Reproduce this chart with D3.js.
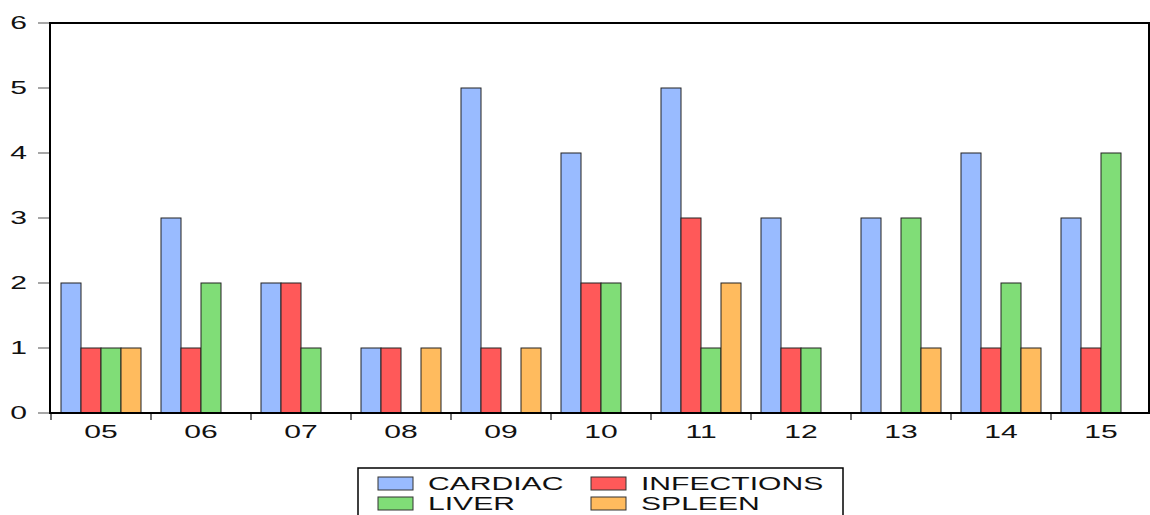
<!DOCTYPE html>
<html>
<head>
<meta charset="utf-8">
<script src="https://cdn.jsdelivr.net/npm/d3@7"></script>
<style>
  body { margin: 0; background: #fff; }
  svg text { font-family: "Liberation Sans", Arial, sans-serif; fill: #111; }
</style>
</head>
<body>
<div id="chart"></div>
<script>
var years = ["05", "06", "07", "08", "09", "10", "11", "12", "13", "14", "15"];
var seriesNames = ["CARDIAC", "INFECTIONS", "LIVER", "SPLEEN"];
var cardiac    = [2, 3, 2, 1, 5, 4, 5, 3, 3, 4, 3];
var infections = [1, 1, 2, 1, 1, 2, 3, 1, 0, 1, 1];
var liver      = [1, 2, 1, 0, 0, 2, 1, 1, 3, 2, 4];
var spleen     = [1, 0, 0, 1, 1, 0, 2, 0, 1, 1, 0];
var yTicks = [0, 1, 2, 3, 4, 5, 6];
var colors = ["#99bbff", "#ff5959", "#80dd77", "#ffbb5e"];

var width = 1150, height = 515;
// note: "top" is a reserved global in browsers, so use plot* names
var plotLeft = 50, plotRight = 1149, plotTop = 23, plotBottom = 413;
var stretch = 1.72;

var svg = d3.select("#chart").append("svg")
    .attr("width", width)
    .attr("height", height);

var x = d3.scaleBand()
    .domain(years)
    .range([plotLeft + 1, plotLeft + 1101])
    .paddingInner(0.2)
    .paddingOuter(0.1);

var xInner = d3.scaleBand()
    .domain(seriesNames)
    .range([0, x.bandwidth()]);

var y = d3.scaleLinear()
    .domain([0, 6])
    .range([plotBottom, plotTop]);

var allSeries = [cardiac, infections, liver, spleen];
var bars = [];
years.forEach(function (yr, i) {
    seriesNames.forEach(function (s, j) {
        bars.push({ year: yr, series: s, value: allSeries[j][i], color: colors[j] });
    });
});

// y ticks + labels
yTicks.forEach(function (t) {
    svg.append("line")
        .attr("x1", plotLeft - 12).attr("x2", plotLeft)
        .attr("y1", y(t)).attr("y2", y(t))
        .attr("stroke", "#888").attr("stroke-width", 1.5);
    svg.append("text")
        .attr("transform", "translate(" + (plotLeft - 23) + "," + (y(t) + 6) + ") scale(" + stretch + ",1)")
        .attr("text-anchor", "end")
        .style("font-size", "17.5px")
        .text(t);
});

// x ticks at group boundaries
d3.range(years.length + 1).forEach(function (i) {
    var xp = i < years.length ? x(years[i]) - 10 : x(years[years.length - 1]) + 90;
    svg.append("line")
        .attr("x1", xp).attr("x2", xp)
        .attr("y1", plotBottom + 1).attr("y2", plotBottom + 7)
        .attr("stroke", "#444").attr("stroke-width", 1.5);
});

years.forEach(function (yr) {
    svg.append("text")
        .attr("transform", "translate(" + (x(yr) + x.bandwidth() / 2) + "," + (plotBottom + 25) + ") scale(" + stretch + ",1)")
        .attr("text-anchor", "middle")
        .style("font-size", "17.5px")
        .text(yr);
});

// bars
svg.selectAll(".bar")
    .data(bars.filter(function (d) { return d.value > 0; }))
    .enter().append("rect")
    .attr("class", "bar")
    .attr("x", function (d) { return x(d.year) + xInner(d.series); })
    .attr("y", function (d) { return y(d.value); })
    .attr("width", xInner.bandwidth())
    .attr("height", function (d) { return y(0) - y(d.value); })
    .attr("fill", function (d) { return d.color; })
    .attr("stroke", "#222")
    .attr("stroke-width", 1);

// plot frame
svg.append("rect")
    .attr("x", plotLeft).attr("y", plotTop)
    .attr("width", plotRight - plotLeft).attr("height", plotBottom - plotTop)
    .attr("fill", "none")
    .attr("stroke", "#000")
    .attr("stroke-width", 2);

// legend
var lg = svg.append("g");
lg.append("rect")
    .attr("x", 358).attr("y", 468)
    .attr("width", 485).attr("height", 70)
    .attr("fill", "#fff")
    .attr("stroke", "#000")
    .attr("stroke-width", 1.5);

var legendPos = [[378, 477], [591, 477], [378, 497], [591, 497]];
seriesNames.forEach(function (s, i) {
    var p = legendPos[i];
    lg.append("rect")
        .attr("x", p[0]).attr("y", p[1])
        .attr("width", 35).attr("height", 13)
        .attr("fill", colors[i])
        .attr("stroke", "#333")
        .attr("stroke-width", 1);
    lg.append("text")
        .attr("transform", "translate(" + (p[0] + 50) + "," + (p[1] + 12.5) + ") scale(" + stretch + ",1)")
        .style("font-size", "17.5px")
        .text(s);
});
</script>
</body>
</html>
